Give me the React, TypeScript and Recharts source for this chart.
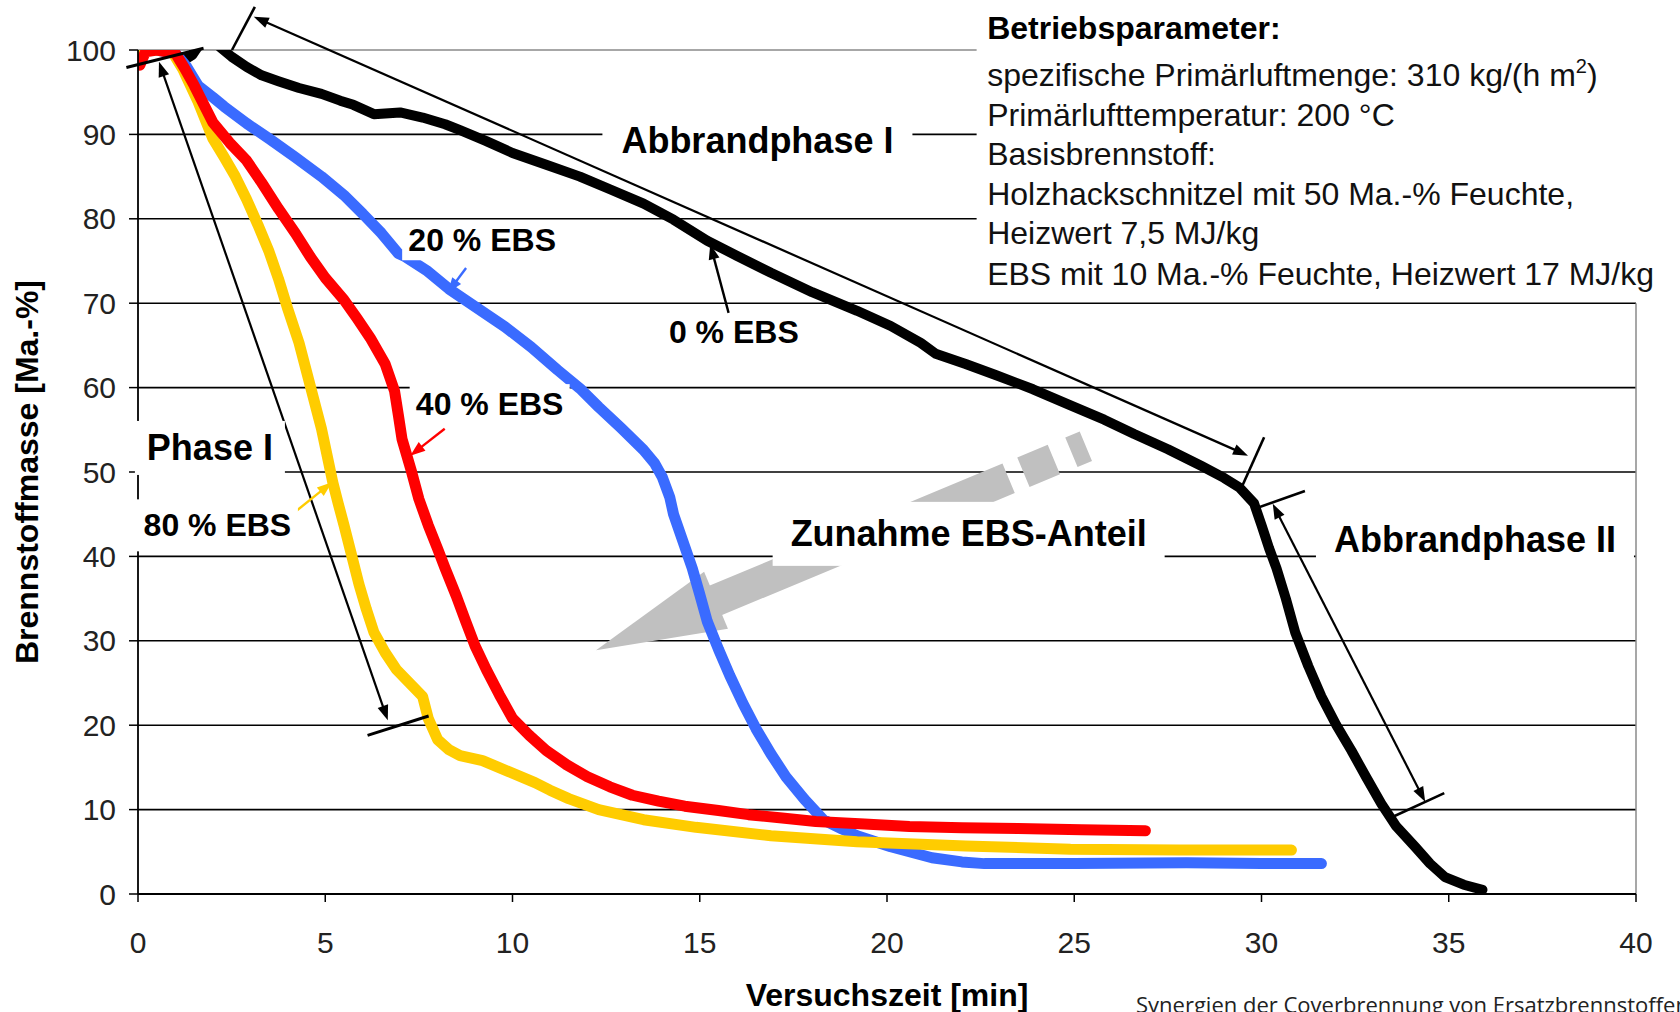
import React from 'react';
import { LineChart, Line, XAxis, YAxis, CartesianGrid, ReferenceLine, ReferenceDot } from 'recharts';

const FONT = '"Liberation Sans", Arial, Helvetica, sans-serif';

const xTicks = [0, 5, 10, 15, 20, 25, 30, 35, 40];
const yTicks = [0, 10, 20, 30, 40, 50, 60, 70, 80, 90, 100];
const gridValues = [10, 20, 30, 40, 50, 60, 70, 80, 90];

// 0 % EBS (black)
const ebs0 = [
  { x: 2.2, y: 100.3 }, { x: 2.5, y: 99.2 }, { x: 2.9, y: 98 }, { x: 3.3, y: 97 }, { x: 3.75, y: 96.3 },
  { x: 4.3, y: 95.5 }, { x: 4.9, y: 94.8 }, { x: 5.4, y: 94 }, { x: 5.75, y: 93.5 }, { x: 6.3, y: 92.4 },
  { x: 7.0, y: 92.6 }, { x: 7.6, y: 92 }, { x: 8.2, y: 91.2 }, { x: 8.6, y: 90.5 }, { x: 9.3, y: 89.2 },
  { x: 10.0, y: 87.8 }, { x: 10.9, y: 86.4 }, { x: 11.8, y: 85 }, { x: 12.6, y: 83.5 }, { x: 13.5, y: 81.8 },
  { x: 14.3, y: 79.9 }, { x: 15.2, y: 77.4 }, { x: 16.0, y: 75.6 }, { x: 16.9, y: 73.6 }, { x: 18.0, y: 71.3 },
  { x: 19.2, y: 69.1 }, { x: 20.1, y: 67.3 }, { x: 20.9, y: 65.3 }, { x: 21.3, y: 64 }, { x: 22.1, y: 62.8 },
  { x: 22.9, y: 61.5 }, { x: 23.9, y: 59.8 }, { x: 24.9, y: 57.9 }, { x: 25.8, y: 56.2 }, { x: 26.6, y: 54.5 },
  { x: 27.5, y: 52.7 }, { x: 28.4, y: 50.7 }, { x: 29.0, y: 49.3 }, { x: 29.4, y: 48.2 }, { x: 29.8, y: 46.3 },
  { x: 30.0, y: 43.7 }, { x: 30.2, y: 41 }, { x: 30.4, y: 38.6 }, { x: 30.65, y: 35 }, { x: 30.9, y: 31 },
  { x: 31.25, y: 27 }, { x: 31.6, y: 23.4 }, { x: 32.0, y: 20 }, { x: 32.4, y: 17 }, { x: 32.8, y: 13.8 },
  { x: 33.2, y: 10.7 }, { x: 33.6, y: 8 }, { x: 34.1, y: 5.6 }, { x: 34.5, y: 3.6 }, { x: 34.9, y: 2 },
  { x: 35.4, y: 1.1 }, { x: 35.9, y: 0.5 },
];
const ebs0Start = [{ x: 1.3, y: 99.0 }, { x: 1.45, y: 99.4 }, { x: 1.6, y: 100.4 }];

// 20 % EBS (blue)
const ebs20 = [
  { x: 0.5, y: 100 }, { x: 1.0, y: 99.6 }, { x: 1.3, y: 98 }, { x: 1.6, y: 95.8 }, { x: 2.0, y: 94.4 },
  { x: 2.3, y: 93.3 }, { x: 2.9, y: 91.3 }, { x: 3.5, y: 89.5 }, { x: 4.2, y: 87.3 }, { x: 4.9, y: 85 },
  { x: 5.5, y: 82.8 }, { x: 6.0, y: 80.6 }, { x: 6.5, y: 78.3 }, { x: 6.95, y: 75.9 }, { x: 7.1, y: 75.6 },
  { x: 7.7, y: 73.9 }, { x: 8.3, y: 71.7 }, { x: 9.0, y: 69.6 }, { x: 9.8, y: 67.2 }, { x: 10.5, y: 64.8 },
  { x: 11.2, y: 62.1 }, { x: 11.8, y: 59.9 }, { x: 12.3, y: 57.7 }, { x: 12.9, y: 55.2 }, { x: 13.5, y: 52.6 },
  { x: 13.8, y: 51 }, { x: 14.0, y: 49.4 }, { x: 14.2, y: 47 }, { x: 14.3, y: 45 }, { x: 14.55, y: 41.8 },
  { x: 14.8, y: 38.6 }, { x: 15.0, y: 35.5 }, { x: 15.2, y: 32.3 }, { x: 15.5, y: 29 }, { x: 15.8, y: 25.9 },
  { x: 16.15, y: 22.6 }, { x: 16.5, y: 19.6 }, { x: 16.9, y: 16.6 }, { x: 17.3, y: 13.9 }, { x: 17.8, y: 11.2 },
  { x: 18.3, y: 8.8 }, { x: 18.8, y: 7.7 }, { x: 19.2, y: 6.9 }, { x: 20.1, y: 5.6 }, { x: 21.2, y: 4.3 },
  { x: 22.0, y: 3.8 }, { x: 22.6, y: 3.6 }, { x: 25, y: 3.6 }, { x: 28, y: 3.7 }, { x: 30, y: 3.6 },
  { x: 31.6, y: 3.6 },
];

// 40 % EBS (red)
const ebs40 = [
  { x: 0.05, y: 98.2 }, { x: 0.2, y: 99.8 }, { x: 0.5, y: 100 }, { x: 1.0, y: 99.6 }, { x: 1.25, y: 97.8 },
  { x: 1.5, y: 95.8 }, { x: 2.0, y: 91.4 }, { x: 2.45, y: 89 }, { x: 2.9, y: 86.9 }, { x: 3.3, y: 84.3 },
  { x: 3.75, y: 81.2 }, { x: 4.2, y: 78.3 }, { x: 4.6, y: 75.5 }, { x: 5.0, y: 73 }, { x: 5.5, y: 70.4 },
  { x: 5.85, y: 68.2 }, { x: 6.2, y: 65.9 }, { x: 6.6, y: 62.8 }, { x: 6.85, y: 59.6 }, { x: 6.95, y: 56.8 },
  { x: 7.05, y: 53.9 }, { x: 7.3, y: 50.1 }, { x: 7.5, y: 46.8 }, { x: 7.75, y: 43.7 }, { x: 8.0, y: 40.9 },
  { x: 8.2, y: 38.6 }, { x: 8.5, y: 35.3 }, { x: 8.75, y: 32.3 }, { x: 9.0, y: 29.4 }, { x: 9.3, y: 26.6 },
  { x: 9.65, y: 23.6 }, { x: 10.0, y: 20.8 }, { x: 10.45, y: 18.8 }, { x: 10.9, y: 17 }, { x: 11.45, y: 15.3 },
  { x: 12.0, y: 13.9 }, { x: 12.6, y: 12.7 }, { x: 13.2, y: 11.7 }, { x: 13.9, y: 11 }, { x: 14.6, y: 10.4 },
  { x: 15.5, y: 9.9 }, { x: 16.3, y: 9.4 }, { x: 17.2, y: 9.0 }, { x: 18.1, y: 8.6 }, { x: 19.4, y: 8.3 },
  { x: 20.6, y: 8.0 }, { x: 22, y: 7.85 }, { x: 23.5, y: 7.75 }, { x: 25.2, y: 7.6 }, { x: 26.9, y: 7.5 },
];

// 80 % EBS (yellow)
const ebs80 = [
  { x: 0, y: 100 }, { x: 0.5, y: 100 }, { x: 0.9, y: 99.9 }, { x: 1.2, y: 97.7 }, { x: 1.6, y: 93.9 },
  { x: 2.0, y: 89.5 }, { x: 2.3, y: 87.3 }, { x: 2.6, y: 85 }, { x: 2.9, y: 82.3 }, { x: 3.2, y: 79.3 },
  { x: 3.5, y: 76.1 }, { x: 3.75, y: 72.9 }, { x: 4.0, y: 69.3 }, { x: 4.3, y: 65.3 }, { x: 4.6, y: 60.2 },
  { x: 4.9, y: 55.1 }, { x: 5.2, y: 48.8 }, { x: 5.35, y: 46.2 }, { x: 5.5, y: 43.7 }, { x: 5.7, y: 40.2 },
  { x: 5.9, y: 36.7 }, { x: 6.1, y: 33.7 }, { x: 6.3, y: 31 }, { x: 6.6, y: 28.6 }, { x: 6.9, y: 26.6 },
  { x: 7.25, y: 25 }, { x: 7.6, y: 23.4 }, { x: 7.75, y: 20.8 }, { x: 8.0, y: 18.3 }, { x: 8.3, y: 17.1 },
  { x: 8.6, y: 16.4 }, { x: 9.2, y: 15.8 }, { x: 9.9, y: 14.5 }, { x: 10.6, y: 13.2 }, { x: 11.0, y: 12.3 },
  { x: 11.5, y: 11.3 }, { x: 12.3, y: 10 }, { x: 12.9, y: 9.4 }, { x: 13.5, y: 8.8 }, { x: 14.9, y: 7.9 },
  { x: 16.9, y: 6.9 }, { x: 19.2, y: 6.2 }, { x: 22.1, y: 5.7 }, { x: 24.9, y: 5.3 }, { x: 27.8, y: 5.2 },
  { x: 30.8, y: 5.2 },
];

// annotation arrows (data coordinates): [from, to]
const arrowPhase1 = [{ x: 3.09, y: 103.95 }, { x: 29.64, y: 51.94 }];
const tickPhase1Top = [{ x: 2.51, y: 100.0 }, { x: 3.12, y: 105.1 }];
const tickPhase1Bottom = [{ x: 29.44, y: 47.89 }, { x: 30.07, y: 54.11 }];
const arrowPhaseI = [{ x: 0.56, y: 98.6 }, { x: 6.67, y: 20.58 }];
const tickPhaseITop = [{ x: -0.31, y: 97.93 }, { x: 1.75, y: 100.2 }];
const tickPhaseIBottom = [{ x: 6.13, y: 18.8 }, { x: 7.76, y: 21.09 }];
const arrowPhase2 = [{ x: 30.3, y: 46.23 }, { x: 34.37, y: 10.93 }];
const tickPhase2Top = [{ x: 29.79, y: 45.6 }, { x: 31.16, y: 47.76 }];
const tickPhase2Bottom = [{ x: 33.51, y: 9.15 }, { x: 34.88, y: 11.95 }];
const pointer0 = [{ x: 15.77, y: 68.85 }, { x: 15.28, y: 76.97 }];
const pointer20 = [{ x: 8.76, y: 74.17 }, { x: 8.27, y: 71.25 }];
const pointer40 = [{ x: 8.19, y: 55.12 }, { x: 7.27, y: 51.94 }];
const pointer80 = [{ x: 4.18, y: 45.22 }, { x: 5.18, y: 48.78 }];
const trendArrow = [{ x: 25.31, y: 53.06 }, { x: 12.23, y: 28.88 }];
const topBorder = [{ x: 0, y: 100 }, { x: 22.7, y: 100 }];
const rightBorder = [{ x: 40, y: 0 }, { x: 40, y: 70 }];

// text labels
const labelTexts = ['Abbrandphase I', 'Abbrandphase II', 'Phase I', 'Zunahme EBS-Anteil', '0 % EBS', '20 % EBS', '40 % EBS', '80 % EBS'];
const labelX = [16.54, 35.7, 1.92, 22.18, 15.91, 9.19, 9.39, 2.12];
const labelY = [89.28, 42.03, 52.85, 42.67, 66.55, 77.46, 58.04, 43.68];
const labelSizes = [36, 36, 36, 36, 32, 32, 32, 32];
const labelBoxW = [310, 318, 150, 392, 140, 160, 160, 161];
const labelBoxH = [44, 50, 54, 64, 36, 40, 40, 52];

const infoTitle = 'Betriebsparameter:';
const infoLines = [
  'spezifische Primärluftmenge: 310 kg/(h m',
  'Primärlufttemperatur: 200 °C',
  'Basisbrennstoff:',
  'Holzhackschnitzel mit 50 Ma.-% Feuchte,',
  'Heizwert 7,5 MJ/kg',
  'EBS mit 10 Ma.-% Feuchte, Heizwert 17 MJ/kg',
];
const infoAnchor = { x: 22.5, y: 100 };

const arrowShape = (color: string, width: number, heads: 'start' | 'end' | 'both' | 'none') => (p: any) => {
  const { x1, y1, x2, y2 } = p;
  const dx = x2 - x1, dy = y2 - y1;
  const L = Math.hypot(dx, dy) || 1;
  const ux = dx / L, uy = dy / L;
  const nx = -uy, ny = ux;
  const hl = 15, hw = 5.5;
  const head = (tx: number, ty: number, dirx: number, diry: number) => {
    const bx = tx - dirx * hl, by = ty - diry * hl;
    return `${tx},${ty} ${bx + nx * hw},${by + ny * hw} ${bx - nx * hw},${by - ny * hw}`;
  };
  const hasStart = heads === 'start' || heads === 'both';
  const hasEnd = heads === 'end' || heads === 'both';
  const sx = hasStart ? x1 + ux * (hl - 2) : x1;
  const sy = hasStart ? y1 + uy * (hl - 2) : y1;
  const ex = hasEnd ? x2 - ux * (hl - 2) : x2;
  const ey = hasEnd ? y2 - uy * (hl - 2) : y2;
  return (
    <g>
      <line x1={sx} y1={sy} x2={ex} y2={ey} stroke={color} strokeWidth={width} />
      {hasStart && <polygon points={head(x1, y1, -ux, -uy)} fill={color} />}
      {hasEnd && <polygon points={head(x2, y2, ux, uy)} fill={color} />}
    </g>
  );
};

const bigArrowShape = (p: any) => {
  const { x1, y1, x2, y2 } = p;
  const dx = x2 - x1, dy = y2 - y1;
  const L = Math.hypot(dx, dy) || 1;
  const ux = dx / L, uy = dy / L;
  const nx = -uy, ny = ux;
  const headLen = 130, headHalf = 31, bodyHalf = 16;
  const bx = x2 - ux * headLen, by = y2 - uy * headLen;
  const pts = `${x2},${y2} ${bx + nx * headHalf},${by + ny * headHalf} ${bx - nx * headHalf},${by - ny * headHalf}`;
  return (
    <g>
      <line x1={bx + ux * 4} y1={by + uy * 4} x2={x1} y2={y1} stroke="#c0c0c0" strokeWidth={bodyHalf * 2} strokeDasharray="321 16 33 19 40" />
      <polygon points={pts} fill="#c0c0c0" />
    </g>
  );
};

const boxLabel = (text: string, w: number, h: number, fs: number) => (p: any) => (
  <g>
    <rect x={p.cx - w / 2} y={p.cy - h / 2} width={w} height={h} fill="#fff" />
    <text x={p.cx} y={p.cy} textAnchor="middle" dominantBaseline="central" fontSize={fs} fontWeight={700} fontFamily={FONT} fill="#000">
      {text}
    </text>
  </g>
);

const infoBox = (p: any) => {
  const left = p.cx + 6.5;
  const offsets = [36, 75.7, 115.4, 155, 193.7, 235];
  return (
    <g>
      <rect x={p.cx - 4} y={p.cy - 60} width={760} height={308} fill="#fff" />
      <text x={left} y={p.cy - 11} fontSize={32} fontWeight={700} fontFamily={FONT} fill="#000">{infoTitle}</text>
      {infoLines.map((t, i) => (
        <text key={i} x={left} y={p.cy + offsets[i]} fontSize={32} fontFamily={FONT} fill="#111">
          {t}
          {i === 0 && (
            <>
              <tspan dy={-13} fontSize={20}>2</tspan>
              <tspan dy={13}>)</tspan>
            </>
          )}
        </text>
      ))}
    </g>
  );
};

const XTitle = (p: any) => {
  const vb = p.viewBox || {};
  return (
    <text x={vb.x + vb.width / 2} y={vb.y + 112} textAnchor="middle" fontSize={32} fontWeight={700} fontFamily={FONT} fill="#000">
      Versuchszeit [min]
    </text>
  );
};

const YTitle = (p: any) => {
  const vb = p.viewBox || {};
  const cx = 27, cy = vb.y + vb.height / 2;
  return (
    <text x={cx} y={cy} transform={`rotate(-90 ${cx} ${cy})`} textAnchor="middle" dominantBaseline="central" fontSize={32} fontWeight={700} fontFamily={FONT} fill="#000">
      Brennstoffmasse [Ma.-%]
    </text>
  );
};

const seg = (s: { x: number; y: number }[]) => s.map((d) => ({ x: d.x, y: d.y }));

export default function App() {
  return (
    <div style={{ position: 'absolute', left: 0, top: 0, width: 1680, height: 1012, overflow: 'hidden', background: '#fff' }}>
      <LineChart width={1680} height={1012} margin={{ top: 50, right: 44, bottom: 0, left: 0 }}>
        <CartesianGrid horizontal vertical={false} horizontalValues={gridValues} stroke="#000" strokeWidth={1.6} />
        <XAxis
          dataKey="x"
          type="number"
          domain={[0, 40]}
          ticks={xTicks}
          allowDataOverflow
          height={118}
          tickSize={8}
          tickMargin={30}
          axisLine={{ stroke: '#000', strokeWidth: 1.8 }}
          tickLine={{ stroke: '#000', strokeWidth: 1.5 }}
          tick={{ fontSize: 30, fill: '#222', fontFamily: FONT }}
          label={<XTitle />}
        />
        <YAxis
          dataKey="y"
          type="number"
          domain={[0, 100]}
          ticks={yTicks}
          allowDataOverflow
          width={138}
          tickSize={9}
          tickMargin={13}
          axisLine={{ stroke: '#000', strokeWidth: 1.8 }}
          tickLine={{ stroke: '#000', strokeWidth: 1.5 }}
          tick={{ fontSize: 30, fill: '#222', fontFamily: FONT }}
          label={<YTitle />}
        />
        <ReferenceLine segment={seg(topBorder)} ifOverflow="visible" stroke="#8a8a8a" strokeWidth={1.5} />
        <ReferenceLine segment={seg(rightBorder)} ifOverflow="visible" stroke="#8a8a8a" strokeWidth={1.5} />

        <ReferenceLine segment={seg(trendArrow)} ifOverflow="visible" shape={bigArrowShape} />

        <Line data={ebs0Start} dataKey="y" stroke="#000" strokeWidth={10} dot={false} isAnimationActive={false} strokeLinecap="round" strokeLinejoin="round" />
        <Line data={ebs0} dataKey="y" stroke="#000" strokeWidth={10} dot={false} isAnimationActive={false} strokeLinecap="round" strokeLinejoin="round" />
        <Line data={ebs20} dataKey="y" stroke="#3a6bff" strokeWidth={11} dot={false} isAnimationActive={false} strokeLinecap="round" strokeLinejoin="round" />
        <Line data={ebs80} dataKey="y" stroke="#ffcc00" strokeWidth={11} dot={false} isAnimationActive={false} strokeLinecap="round" strokeLinejoin="round" />
        <Line data={ebs40} dataKey="y" stroke="#ff0000" strokeWidth={11} dot={false} isAnimationActive={false} strokeLinecap="round" strokeLinejoin="round" />

        <ReferenceLine segment={seg(arrowPhase1)} ifOverflow="visible" shape={arrowShape('#000', 2.2, 'both')} />
        <ReferenceLine segment={seg(tickPhase1Top)} ifOverflow="visible" shape={arrowShape('#000', 2.6, 'none')} />
        <ReferenceLine segment={seg(tickPhase1Bottom)} ifOverflow="visible" shape={arrowShape('#000', 2.6, 'none')} />
        <ReferenceLine segment={seg(arrowPhaseI)} ifOverflow="visible" shape={arrowShape('#000', 2.2, 'both')} />
        <ReferenceLine segment={seg(tickPhaseITop)} ifOverflow="visible" shape={arrowShape('#000', 3, 'none')} />
        <ReferenceLine segment={seg(tickPhaseIBottom)} ifOverflow="visible" shape={arrowShape('#000', 3, 'none')} />
        <ReferenceLine segment={seg(arrowPhase2)} ifOverflow="visible" shape={arrowShape('#000', 2.2, 'both')} />
        <ReferenceLine segment={seg(tickPhase2Top)} ifOverflow="visible" shape={arrowShape('#000', 2.6, 'none')} />
        <ReferenceLine segment={seg(tickPhase2Bottom)} ifOverflow="visible" shape={arrowShape('#000', 2.6, 'none')} />
        <ReferenceLine segment={seg(pointer0)} ifOverflow="visible" shape={arrowShape('#000', 2.4, 'end')} />
        <ReferenceLine segment={seg(pointer20)} ifOverflow="visible" shape={arrowShape('#3a6bff', 2.4, 'end')} />
        <ReferenceLine segment={seg(pointer40)} ifOverflow="visible" shape={arrowShape('#ff0000', 2.4, 'end')} />
        <ReferenceLine segment={seg(pointer80)} ifOverflow="visible" shape={arrowShape('#ffcc00', 2.4, 'end')} />

        {labelTexts.map((t, i) => (
          <ReferenceDot
            key={t}
            x={labelX[i]}
            y={labelY[i]}
            r={1}
            ifOverflow="visible"
            shape={boxLabel(t, labelBoxW[i], labelBoxH[i], labelSizes[i])}
          />
        ))}
        <ReferenceDot x={infoAnchor.x} y={infoAnchor.y} r={1} ifOverflow="visible" shape={infoBox} />
      </LineChart>
      <div
        style={{
          position: 'absolute',
          left: 1136,
          top: 990,
          fontFamily: '"Open Sans", sans-serif',
          fontSize: 22,
          lineHeight: '28px',
          color: '#222',
          whiteSpace: 'nowrap',
        }}
      >
        Synergien der Coverbrennung von Ersatzbrennstoffen
      </div>
    </div>
  );
}
